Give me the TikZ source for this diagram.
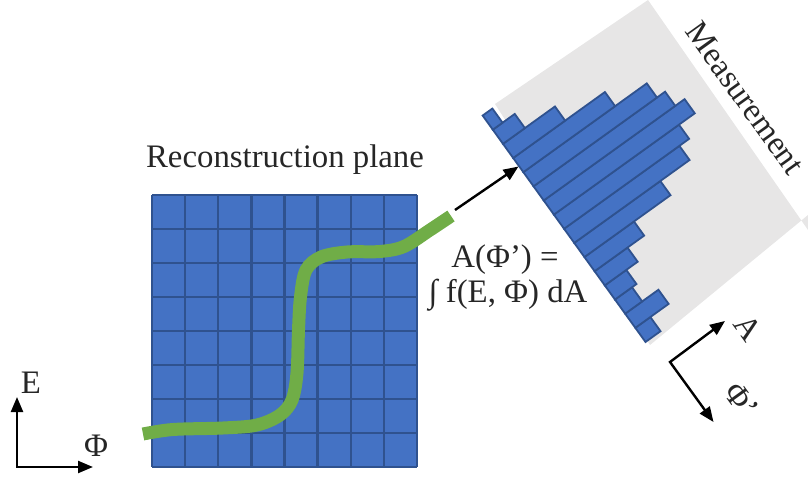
\documentclass[tikz,border=0pt]{standalone}
\usepackage{fontspec}
\setmainfont{Liberation Serif}
\usetikzlibrary{arrows.meta}
\definecolor{cellblue}{HTML}{4472C4}
\definecolor{celledge}{HTML}{2F528F}
\definecolor{curvegreen}{HTML}{70AD47}
\definecolor{panelgray}{HTML}{E7E6E6}
\definecolor{txt}{HTML}{262626}
\begin{document}
\begin{tikzpicture}[x=1pt,y=-1pt,
  lbl/.style={font=\fontsize{32.8}{39}\selectfont, text=txt, inner sep=0pt},
  axpair/.style={line width=2.4pt, line join=miter,
    {Triangle[length=15pt,width=12pt]}-{Triangle[length=15pt,width=12pt]}},
  axone/.style={line width=2.4pt, -{Triangle[length=15pt,width=12pt]}},
  cell/.style={fill=cellblue, draw=celledge, line width=1.8pt, line join=miter}]
\useasboundingbox (0,0) rectangle (808,481);

% measurement panel
\fill[panelgray] (650,345) -- (495,104) -- (648,0) -- (808,230) -- (808,215) -- cycle;

% histogram
\begin{scope}[shift={(645.5,342)}, x={(0.812pt,0.584pt)}, y={(-0.584pt,0.812pt)}]
\foreach \L [count=\i from 0] in {18.5,41,21,26.5,40.5,61,106,142,154,173.5,162,152,113,64,27,12} {
  \path[cell] (0,{\i*17.43}) -- (\L,{\i*17.43}) -- (\L,{(\i+1)*17.43}) -- (0,{(\i+1)*17.43}) -- cycle;
}
\end{scope}

% reconstruction grid
\fill[cellblue] (152,195) rectangle (417,467);
\foreach \k in {0,...,8} {
  \draw[celledge, line width=2.4pt] ({152+\k*33.125},195) -- ({152+\k*33.125},467);
  \draw[celledge, line width=2.4pt] (152,{195+\k*34}) -- (417,{195+\k*34});
}

% green curve
\draw[curvegreen, line width=13pt] plot[smooth, tension=0.55] coordinates {(143,434) (173,429.5) (223,428) (257,425) (280,415) (292,400) (297,373) (298.5,330) (300.5,297) (306,270) (321,257) (347,252) (380,251.5) (404,246.5) (430,230) (451,216)};

% projection arrow
\coordinate (gend) at (455,210);
\coordinate (htip) at (518.5,166.5);
\draw[axone] (gend) -- (htip);

% E / Phi axes
\coordinate (o1) at (17,467);
\coordinate (e1) at (17,397);
\coordinate (p1) at (93,467);
\draw[axpair] (e1) -- (o1) -- (p1);

% A / Phi' axes
\coordinate (o2) at (670,362);
\coordinate (a2) at (725,321);
\coordinate (p2) at (713.5,422);
\draw[axpair] (a2) -- (o2) -- (p2);

% labels
\node[lbl, anchor=base] (title) at (285,168) {Reconstruction plane};
\node[lbl, anchor=base] (eq1) at (505,267) {A(Φ’) =};
\node[lbl, anchor=base] (eq2) at (508,302) {∫ f(E, Φ) dA};
\node[lbl, anchor=base] (elab) at (31,393) {E};
\node[lbl, anchor=base] (philab) at (96,456) {Φ};
\node[lbl, rotate=-54.3] (meas) at (745,98) {Measurement};
\node[lbl, rotate=-54.3] (alab) at (748,328) {A};
\node[lbl, rotate=-54.3] (phip) at (742,400) {Φ’};
\end{tikzpicture}
\end{document}
